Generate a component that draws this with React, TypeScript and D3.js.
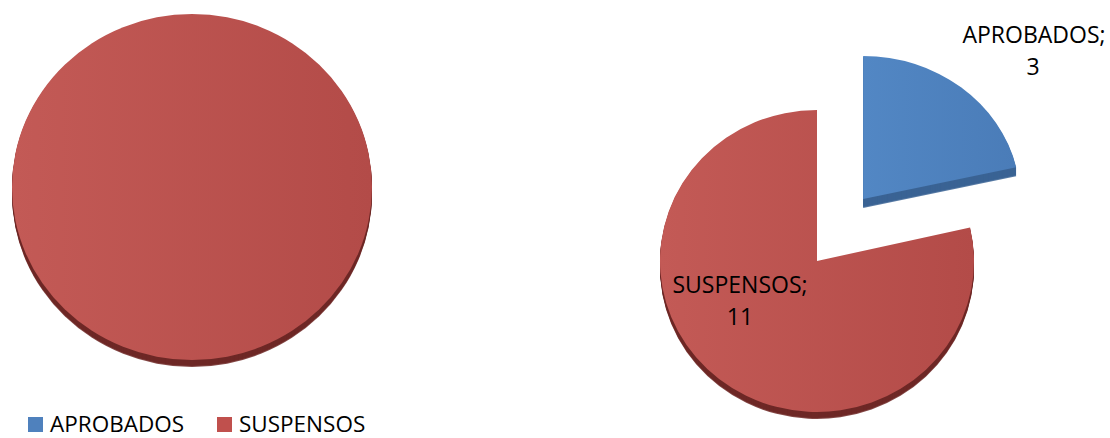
import React from "react";
import * as d3 from "d3";

const categories = ["APROBADOS", "SUSPENSOS"];
const leftValues = [0, 14];
const rightValues = [3, 11];
const faceColors = ["#4F81BD", "#C0504D"];
const sideColors = ["#3A6394", "#6E2826"];

const W = 1110;
const H = 438;
const FONT = "'Open Sans', 'Liberation Sans', sans-serif";

type Slice = d3.PieArcDatum<number>;

function Pie3D({
  values,
  cx,
  cy,
  rx,
  ry,
  depth,
  explode,
  idPrefix,
}: {
  values: number[];
  cx: number;
  cy: number;
  rx: number;
  ry: number[];
  depth: number[];
  explode: number[];
  idPrefix: string;
}) {
  const pie = d3.pie<number>().sort(null).value((d) => d);
  const arcs = pie(values);
  const arc = d3.arc<Slice>().innerRadius(0).outerRadius(rx);
  return (
    <g>
      {arcs.map((a, i) => {
        if (a.value === 0) return null;
        const mid = (a.startAngle + a.endAngle) / 2;
        const ex = explode[i] ? Math.sin(mid) * explode[i] : 0;
        const ey = explode[i] ? -Math.cos(mid) * explode[i] * 1.07 : 0;
        const sy = ry[i] / rx;
        const d = arc(a) || "";
        const layers = d3.range(depth[i], 0, -1);
        return (
          <g key={i} transform={`translate(${cx + ex},${cy + ey})`}>
            {layers.map((dy) => (
              <path
                key={dy}
                d={d}
                transform={`translate(0,${dy}) scale(1,${sy})`}
                fill={sideColors[i]}
                opacity={dy === depth[i] ? 0.85 : 1}
              />
            ))}
            <path
              d={d}
              transform={`scale(1,${sy})`}
              fill={`url(#${idPrefix}-g${i})`}
            />
          </g>
        );
      })}
    </g>
  );
}

export default function App() {
  return (
    <svg
      width={W}
      height={H}
      style={{ position: "absolute", left: 0, top: 0, background: "#fff" }}
      fontFamily={FONT}
    >
      <defs>
        {["l", "r"].map((p) => (
          <React.Fragment key={p}>
            <linearGradient id={`${p}-g0`} x1="0" x2="1" y1="0" y2="0">
              <stop offset="0" stopColor="#5287C4" />
              <stop offset="1" stopColor="#4A7CB8" />
            </linearGradient>
            <linearGradient id={`${p}-g1`} x1="0" x2="1" y1="0" y2="0">
              <stop offset="0" stopColor="#C35A56" />
              <stop offset="1" stopColor="#B34B48" />
            </linearGradient>
          </React.Fragment>
        ))}
      </defs>

      <Pie3D
        values={leftValues}
        cx={192}
        cy={187}
        rx={180}
        ry={[173, 173]}
        depth={[7, 7]}
        explode={[0, 0]}
        idPrefix="l"
      />

      <Pie3D
        values={rightValues}
        cx={817}
        cy={261}
        rx={157}
        ry={[143, 151]}
        depth={[9, 7]}
        explode={[74, 0]}
        idPrefix="r"
      />

      {/* data labels */}
      <g fontSize={23} fill="#000" textAnchor="middle">
        <text x={1034} y={43}>{`${categories[0]};`}</text>
        <text x={1033} y={75}>{rightValues[0]}</text>
        <text x={740} y={293}>{`${categories[1]};`}</text>
        <text x={740} y={325}>{rightValues[1]}</text>
      </g>

      {/* legend */}
      <g fontSize={22.5} fill="#000">
        {categories.map((c, i) => {
          const x = i === 0 ? 28 : 217;
          return (
            <g key={c}>
              <rect x={x} y={417} width={15} height={15} fill={faceColors[i]} />
              <text x={x + 22} y={432}>
                {c}
              </text>
            </g>
          );
        })}
      </g>
    </svg>
  );
}
